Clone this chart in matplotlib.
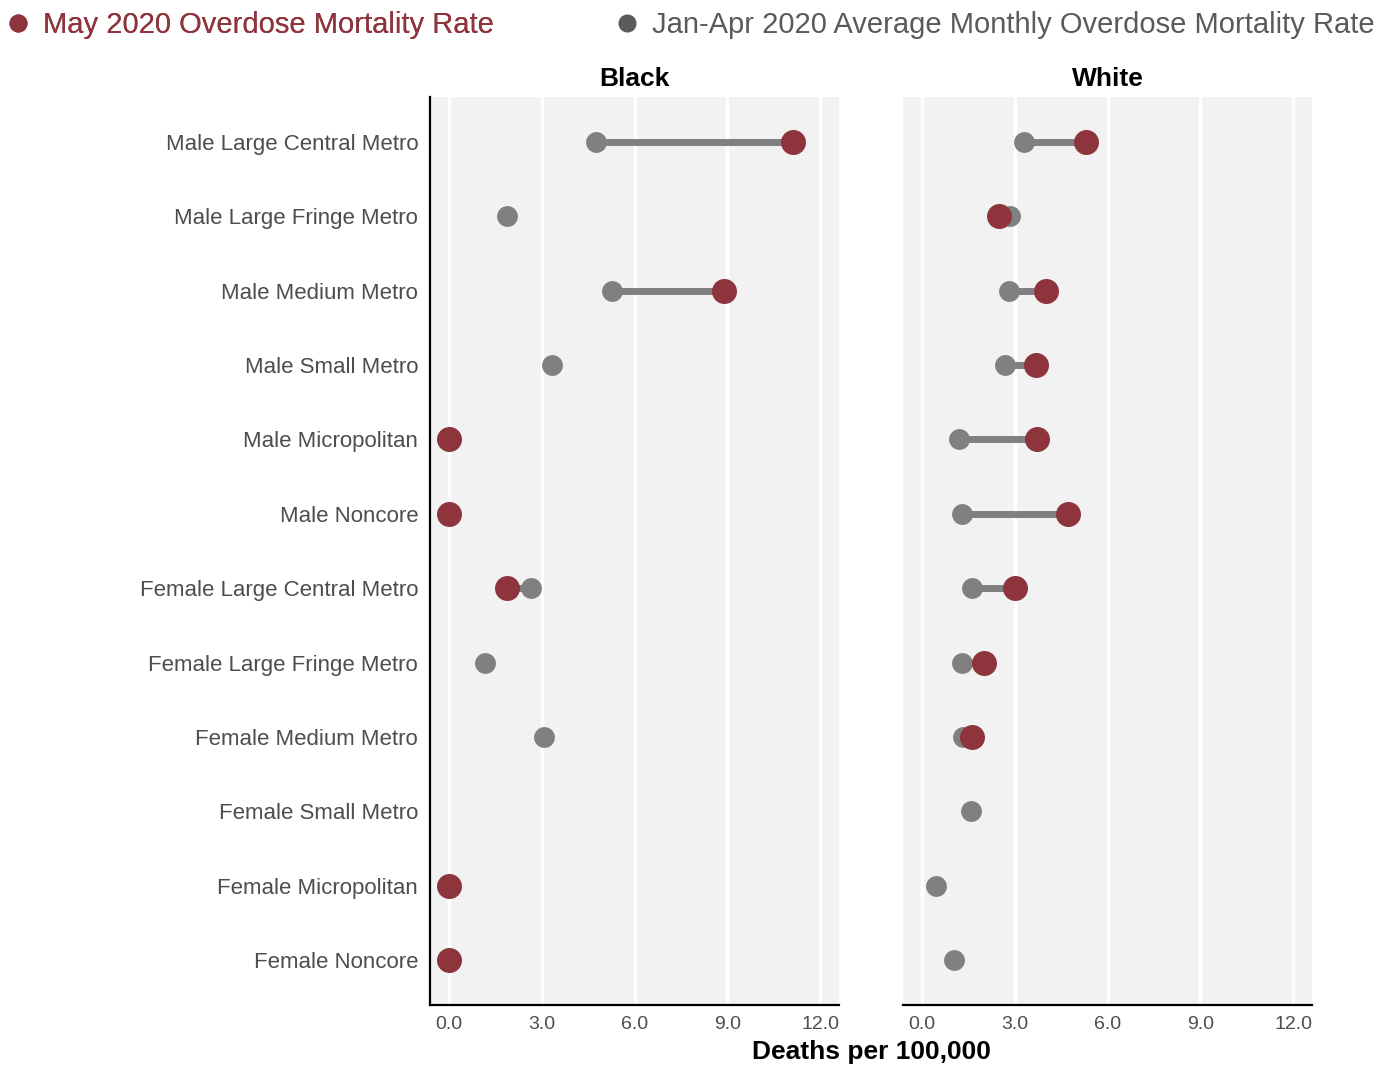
import numpy as np
import matplotlib
matplotlib.use("Agg")
import matplotlib.pyplot as plt
from matplotlib.lines import Line2D

plt.rcParams['font.family'] = ['Liberation Sans', 'DejaVu Sans']

nan = np.nan
categories = ["Male Large Central Metro", "Male Large Fringe Metro", "Male Medium Metro",
              "Male Small Metro", "Male Micropolitan", "Male Noncore",
              "Female Large Central Metro", "Female Large Fringe Metro", "Female Medium Metro",
              "Female Small Metro", "Female Micropolitan", "Female Noncore"]
panels = ["Black", "White"]
black_may = [11.1, nan, 8.9, nan, 0.0, 0.0, 1.87, nan, nan, nan, 0.0, 0.0]
black_janapr = [4.77, 1.87, 5.27, 3.35, nan, nan, 2.66, 1.17, 3.08, nan, nan, nan]
white_may = [5.31, 2.51, 4.0, 3.70, 3.72, 4.71, 3.02, 2.02, 1.62, nan, nan, nan]
white_janapr = [3.31, 2.84, 2.81, 2.70, 1.21, 1.31, 1.62, 1.31, 1.34, 1.61, 0.48, 1.03]
xticks = [0, 3, 6, 9, 12]
series_labels = ["May 2020 Overdose Mortality Rate",
                 "Jan-Apr 2020 Average Monthly Overdose Mortality Rate"]

RED = "#8E343C"
GRAY = "#808080"
LEG_GRAY = "#5A5A5A"
BG = "#F2F2F2"
TXT = "#4D4D4D"

W, H = 1390, 1068
fig = plt.figure(figsize=(W / 100, H / 100), dpi=100)

top, bottom = 97, 1005
axes = []
for left in (430, 903):
    ax = fig.add_axes([left / W, 1 - bottom / H, 409 / W, (bottom - top) / H])
    axes.append(ax)

data = {"Black": (black_may, black_janapr), "White": (white_may, white_janapr)}
ypos = np.arange(len(categories))

for ax, name in zip(axes, panels):
    may = np.array(data[name][0], dtype=float)
    jan = np.array(data[name][1], dtype=float)
    ax.set_facecolor(BG)
    both = ~np.isnan(may) & ~np.isnan(jan)
    ax.hlines(ypos[both], jan[both], may[both], color=GRAY, lw=5, zorder=2)
    ax.scatter(jan, ypos, s=225, color=GRAY, zorder=3, linewidths=0)
    ax.scatter(may, ypos, s=324, color=RED, zorder=4, linewidths=0)
    ax.set_xlim(-0.6, 12.6)
    ax.set_ylim(len(categories) - 0.4, -0.6)
    ax.set_xticks(xticks)
    ax.set_xticklabels([f"{v:.1f}" for v in xticks])
    ax.grid(axis='x', color='white', lw=2.4)
    ax.grid(axis='y', visible=False)
    ax.set_axisbelow(True)
    ax.tick_params(axis='both', length=0, colors=TXT)
    ax.tick_params(axis='x', labelsize=14, pad=8)
    ax.tick_params(axis='y', labelsize=16, pad=8.5)
    ax.set_title(name, fontsize=19, fontweight='bold', pad=8)
    for s in ('top', 'right'):
        ax.spines[s].set_visible(False)
    ax.spines['bottom'].set_linewidth(1.6)
    ax.spines['left'].set_linewidth(1.6)

axes[0].set_yticks(ypos)
axes[0].set_yticklabels(categories)
axes[1].set_yticks([])
axes[1].spines['left'].set_visible(False)

fig.text(871 / W, 1 - 1052 / H, "Deaths per 100,000", ha='center', va='center',
         fontsize=19, fontweight='bold')

h1 = Line2D([], [], marker='o', linestyle='none', color=RED, markersize=12)
h2 = Line2D([], [], marker='o', linestyle='none', color=LEG_GRAY, markersize=12)
leg1 = fig.legend([h1], [series_labels[0]], loc='center left',
                  bbox_to_anchor=(-0.004, 1 - 25 / H), frameon=False, fontsize=21,
                  labelcolor=[RED], handletextpad=0.45, handlelength=0.8, borderaxespad=0)
leg2 = fig.legend([h2], [series_labels[1]], loc='center right',
                  bbox_to_anchor=(0.997, 1 - 25 / H), frameon=False, fontsize=21,
                  labelcolor=[LEG_GRAY], handletextpad=0.45, handlelength=0.8, borderaxespad=0)
fig.add_artist(leg1)

fig.savefig("out.png", dpi=100)
